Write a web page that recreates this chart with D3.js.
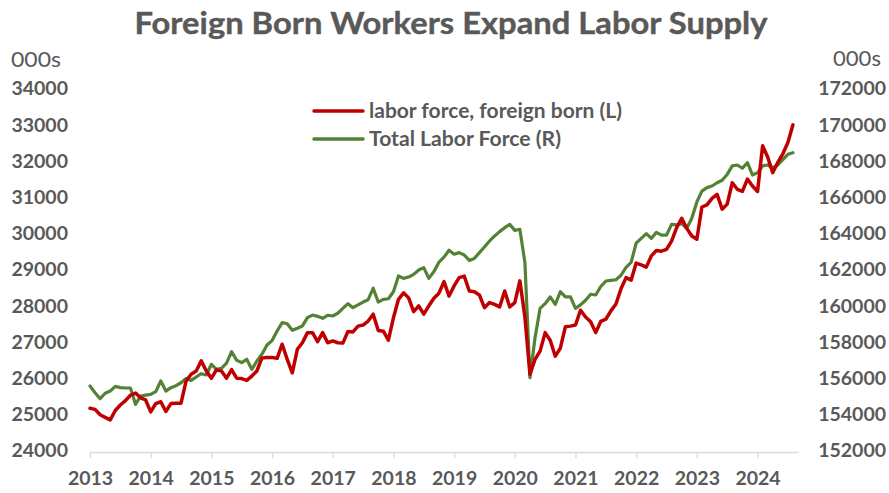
<!DOCTYPE html>
<html>
<head>
<meta charset="utf-8">
<script src="https://cdn.jsdelivr.net/npm/d3@7"></script>
<style>
  html, body { margin: 0; padding: 0; background: #ffffff; }
  svg { display: block; }
</style>
</head>
<body>
<svg id="chart" width="889" height="493"></svg>
<script>
// ---------------- data ----------------
const title = "Foreign Born Workers Expand Labor Supply";
const unitLabel = "000s";
const yearLabels = ["2013","2014","2015","2016","2017","2018","2019","2020","2021","2022","2023","2024"];
const leftTicks = [24000,25000,26000,27000,28000,29000,30000,31000,32000,33000,34000];
const rightTicks = [152000,154000,156000,158000,160000,162000,164000,166000,168000,170000,172000];
const seriesNames = ["labor force, foreign born (L)", "Total Labor Force (R)"];

// monthly, Jan 2013 .. Aug 2024 (thousands)
const foreignBorn = [
  25180,25150,25000,24930,24860,25120,25270,25390,25540,25600,25470,25410,
  25080,25310,25360,25090,25310,25320,25320,25930,26120,26210,26490,26210,
  26010,26240,26210,26010,26250,26010,26000,25950,26070,26210,26570,26580,
  26580,26560,26950,26530,26160,26810,26990,27270,27270,27020,27270,26990,
  27040,26990,26980,27300,27290,27450,27480,27590,27780,27330,27310,27060,
  27680,28190,28370,28230,27850,28010,27780,28010,28220,28360,28680,28280,
  28560,28790,28830,28420,28400,28310,27960,28100,28050,27980,28420,27980,
  28100,28700,27700,26120,26530,26760,27270,27060,26620,26840,27430,27450,
  27480,27890,27700,27570,27270,27580,27640,27870,28060,28480,28790,28720,
  29190,29140,29080,29390,29540,29520,29570,29800,30170,30430,30150,29940,
  29850,30740,30800,30980,31090,30680,30820,31410,31230,31170,31510,31320,
  31170,32430,32120,31690,31970,32210,32520,33010
];
const totalLaborForce = [
  155590,155220,154890,155190,155310,155570,155500,155480,155480,154580,155040,155090,
  155130,155280,155870,155310,155500,155610,155770,156010,155900,156090,156270,156200,
  156790,156510,156570,156860,157490,157010,156880,157070,156510,156970,157350,157860,
  158100,158630,159090,159030,158670,158780,158910,159370,159510,159440,159330,159500,
  159460,159610,159880,160140,159920,160070,160230,160360,160990,160230,160380,160410,
  160800,161670,161540,161610,161760,162000,162130,161540,161910,162430,162710,163090,
  162870,162960,162830,162530,162640,162960,163270,163600,163880,164120,164340,164520,
  164190,164250,162410,156050,158260,159880,160140,160510,160100,160800,160510,160510,
  159880,160070,160330,160660,160620,161090,161390,161430,161460,161710,162150,162420,
  163480,163750,164010,163750,164080,163930,163930,164520,164490,164560,164300,164860,
  165760,166360,166550,166640,166820,166960,167280,167750,167800,167620,167930,167250,
  167380,167750,167800,167650,167800,168100,168390,168480
];

// ---------------- layout ----------------
const svg = d3.select("#chart");
const FONT = "Lato, 'Open Sans', 'Liberation Sans', sans-serif";
const TEXT = "#595959";
const RED = "#C00000";
const GREEN = "#548235";

const plot = { left: 90, right: 798, top: 89, bottom: 451 };

const x = d3.scaleLinear().domain([0, 140]).range([plot.left, plot.right]);
const yL = d3.scaleLinear().domain([24000, 34000]).range([plot.bottom, plot.top]);
const yR = d3.scaleLinear().domain([152000, 172000]).range([plot.bottom, plot.top]);

// title
svg.append("text")
  .attr("x", 451).attr("y", 34)
  .attr("text-anchor", "middle")
  .attr("font-family", FONT).attr("font-weight", 700)
  .attr("font-size", 30).attr("fill", TEXT)
  .attr("stroke", TEXT).attr("stroke-width", 0.4)
  .attr("textLength", 633).attr("lengthAdjust", "spacingAndGlyphs")
  .text(title);

// unit labels
svg.append("text").attr("x", 11).attr("y", 67)
  .attr("font-family", FONT).attr("font-size", 21).attr("fill", TEXT)
  .attr("textLength", 50).attr("lengthAdjust", "spacingAndGlyphs").text(unitLabel);
svg.append("text").attr("x", 881).attr("y", 66).attr("text-anchor", "end")
  .attr("font-family", FONT).attr("font-size", 21).attr("fill", TEXT)
  .attr("textLength", 48).attr("lengthAdjust", "spacingAndGlyphs").text(unitLabel);

// x axis
const monthTicks = yearLabels.map((_, i) => i * 12);
const xAxis = d3.axisBottom(x)
  .tickValues(monthTicks)
  .tickFormat((d, i) => yearLabels[i])
  .tickSize(6).tickSizeOuter(0).tickPadding(13);
const gx = svg.append("g").attr("transform", `translate(0,${plot.bottom + 1})`).call(xAxis);
gx.select(".domain").attr("stroke", "#D9D9D9").attr("stroke-width", 1.3);
gx.selectAll(".tick line").attr("stroke", "#D9D9D9").attr("stroke-width", 1.3);
gx.selectAll(".tick text")
  .attr("font-family", FONT).attr("font-weight", 700).attr("font-size", 19.5).attr("fill", TEXT);

// left axis
const gyL = svg.append("g").attr("transform", `translate(${plot.left - 22},0)`)
  .call(d3.axisLeft(yL).tickValues(leftTicks).tickFormat(d3.format("d")).tickSize(0).tickPadding(0));
gyL.select(".domain").remove();
gyL.selectAll(".tick text")
  .attr("font-family", FONT).attr("font-weight", 700).attr("font-size", 19.5).attr("fill", TEXT)
  .attr("dy", "0.3em");

// right axis
const gyR = svg.append("g").attr("transform", `translate(${886},0)`)
  .call(d3.axisLeft(yR).tickValues(rightTicks).tickFormat(d3.format("d")).tickSize(0).tickPadding(0));
gyR.select(".domain").remove();
gyR.selectAll(".tick text")
  .attr("font-family", FONT).attr("font-weight", 700).attr("font-size", 19.5).attr("fill", TEXT)
  .attr("dy", "0.3em");

// lines
const lineL = d3.line().x((d, i) => x(i)).y(d => yL(d));
const lineR = d3.line().x((d, i) => x(i)).y(d => yR(d));

svg.append("path").datum(totalLaborForce)
  .attr("d", lineR).attr("fill", "none").attr("stroke", GREEN)
  .attr("stroke-width", 3.2).attr("stroke-linejoin", "round").attr("stroke-linecap", "round");
svg.append("path").datum(foreignBorn)
  .attr("d", lineL).attr("fill", "none").attr("stroke", RED)
  .attr("stroke-width", 3.5).attr("stroke-linejoin", "round").attr("stroke-linecap", "round");

// legend
const legend = svg.append("g");
[[RED, seriesNames[0], 111, 253], [GREEN, seriesNames[1], 139, 192]].forEach(([c, name, yy, w]) => {
  legend.append("line").attr("x1", 314).attr("x2", 363).attr("y1", yy).attr("y2", yy)
    .attr("stroke", c).attr("stroke-width", 3.5).attr("stroke-linecap", "round");
  legend.append("text").attr("x", 369).attr("y", yy).attr("dy", "0.35em")
    .attr("font-family", FONT).attr("font-weight", 700).attr("font-size", 20).attr("fill", TEXT)
    .attr("textLength", w).attr("lengthAdjust", "spacingAndGlyphs")
    .text(name);
});
</script>
</body>
</html>
